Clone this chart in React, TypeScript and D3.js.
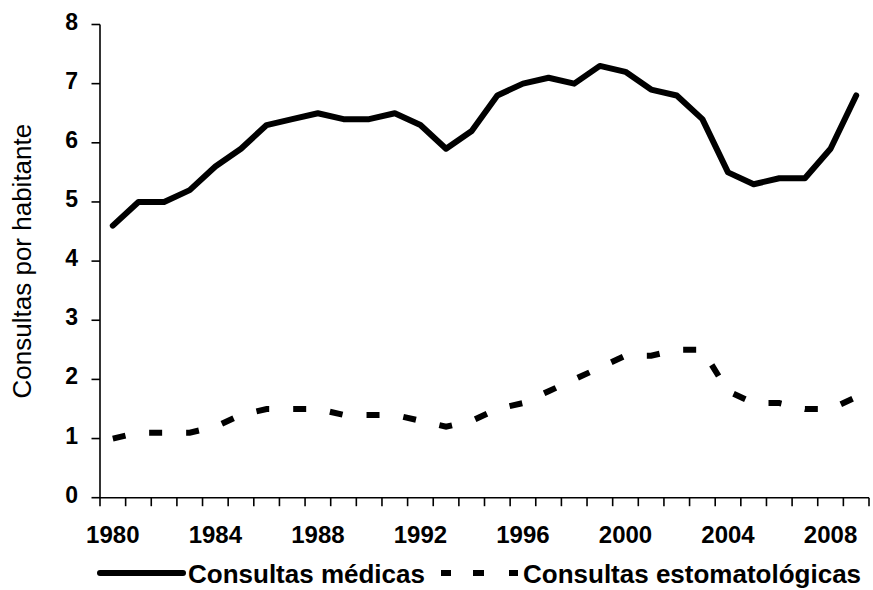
import React from 'react';
import * as d3 from 'd3';

const years: number[] = [1980,1981,1982,1983,1984,1985,1986,1987,1988,1989,1990,1991,1992,1993,1994,1995,1996,1997,1998,1999,2000,2001,2002,2003,2004,2005,2006,2007,2008,2009];
const medicas: number[] = [4.6,5.0,5.0,5.2,5.6,5.9,6.3,6.4,6.5,6.4,6.4,6.5,6.3,5.9,6.2,6.8,7.0,7.1,7.0,7.3,7.2,6.9,6.8,6.4,5.5,5.3,5.4,5.4,5.9,6.8];
const estomatologicas: number[] = [1.0,1.1,1.1,1.1,1.2,1.4,1.5,1.5,1.5,1.4,1.4,1.4,1.3,1.2,1.3,1.5,1.6,1.8,2.0,2.2,2.4,2.4,2.5,2.5,1.8,1.6,1.6,1.5,1.5,1.7];
const xTickLabels: number[] = [1980,1984,1988,1992,1996,2000,2004,2008];
const yTicks: number[] = [0,1,2,3,4,5,6,7,8];
const yTitle = 'Consultas por habitante';
const seriesNames = ['Consultas médicas', 'Consultas estomatológicas'];

const W = 873, H = 590;
const left = 100, right = 869, top = 24.5, bottom = 497.7;
const font = "Arial, 'Liberation Sans', sans-serif";

export default function App() {
  const x = d3.scaleBand<number>().domain(years).range([left, right]).padding(0);
  const y = d3.scaleLinear().domain([0, 8]).range([bottom, top]);
  const cx = (yr: number) => (x(yr) as number) + x.bandwidth() / 2;
  const line = d3.line<number>().x((_, i) => cx(years[i])).y(d => y(d));
  const boundaries = d3.range(years.length + 1).map(i => left + i * x.bandwidth());

  return (
    <svg width={W} height={H} style={{ position: 'absolute', left: 0, top: 0, background: '#fff' }}>
      <rect width={W} height={H} fill="#fff" />
      {/* Y axis */}
      <line x1={left} x2={left} y1={top} y2={bottom} stroke="#000" strokeWidth={1.6} />
      {yTicks.map(t => (
        <g key={t}>
          <line x1={left - 8.5} x2={left} y1={y(t)} y2={y(t)} stroke="#000" strokeWidth={1.6} />
          <text x={78} y={y(t) + 5} textAnchor="end" fontFamily={font} fontWeight="bold" fontSize={23}>{t}</text>
        </g>
      ))}
      {/* X axis */}
      <line x1={left} x2={right} y1={bottom} y2={bottom} stroke="#000" strokeWidth={1.6} />
      {boundaries.map((bx, i) => (
        <line key={i} x1={bx} x2={bx} y1={bottom} y2={bottom + 8.5} stroke="#000" strokeWidth={1.6} />
      ))}
      {xTickLabels.map(t => (
        <text key={t} x={cx(t)} y={543} textAnchor="middle" fontFamily={font} fontWeight="bold" fontSize={24}>{t}</text>
      ))}
      {/* Y title */}
      <text transform={`translate(31,${(top + bottom) / 2}) rotate(-90)`} textAnchor="middle" fontFamily={font} fontSize={26}>{yTitle}</text>
      {/* Series */}
      <path d={line(medicas) || ''} fill="none" stroke="#000" strokeWidth={6} strokeLinejoin="round" strokeLinecap="round" />
      <path d={line(estomatologicas) || ''} fill="none" stroke="#000" strokeWidth={6} strokeDasharray="13 24" />
      {/* Legend */}
      <line x1={100} x2={183} y1={573} y2={573} stroke="#000" strokeWidth={6} strokeLinecap="round" />
      <text x={188} y={583} fontFamily={font} fontWeight="bold" fontSize={26}>{seriesNames[0]}</text>
      <line x1={441} x2={518} y1={573} y2={573} stroke="#000" strokeWidth={6} strokeDasharray="10 22 11 25" />
      <text x={523} y={583} fontFamily={font} fontWeight="bold" fontSize={26}>{seriesNames[1]}</text>
    </svg>
  );
}
